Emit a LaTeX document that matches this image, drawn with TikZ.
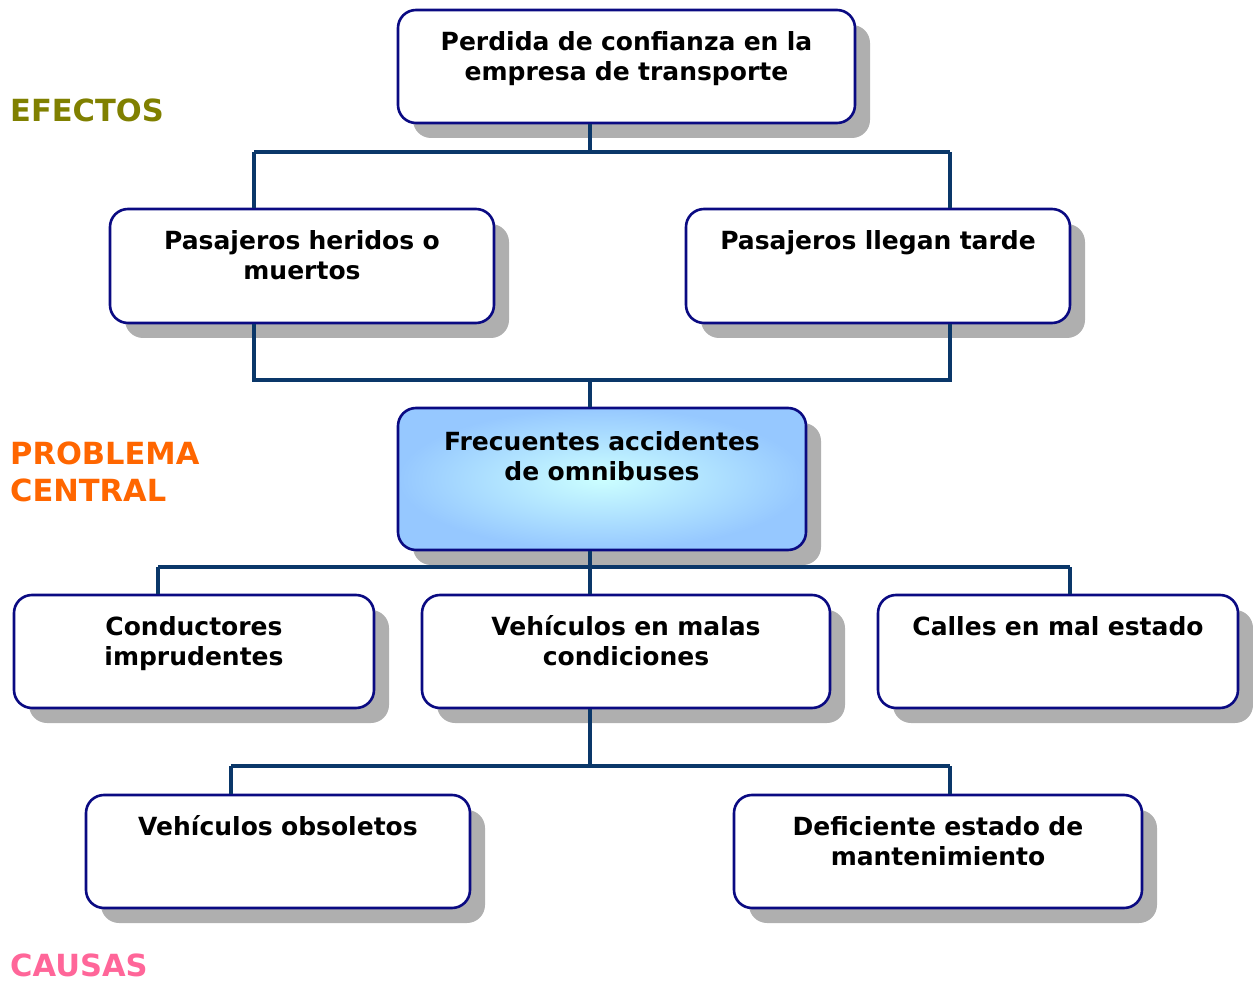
\documentclass[tikz,border=0pt]{standalone}
\usepackage{fontspec}
\setmainfont{DejaVu Sans}
\usetikzlibrary{shadows,backgrounds}
\definecolor{conncol}{RGB}{10,55,105}
\definecolor{boxborder}{RGB}{10,10,130}
\definecolor{shadowgray}{RGB}{175,175,175}
\definecolor{efcol}{RGB}{128,128,0}
\definecolor{pccol}{RGB}{255,102,0}
\definecolor{cacol}{RGB}{255,102,153}
\definecolor{innerblue}{RGB}{204,255,255}
\definecolor{outerblue}{RGB}{150,200,255}
\tikzset{
  boxnode/.style={draw=boxborder, line width=2.6pt, rounded corners=18pt, fill=white, inner sep=0pt,
    drop shadow={shadow xshift=15pt, shadow yshift=-15pt, fill=shadowgray, opacity=1}},
  boxtext/.style={anchor=base, inner sep=0pt, align=center, text width=500pt,
    font=\bfseries\fontsize{25}{30}\selectfont},
  conn/.style={draw=conncol, line width=4pt},
  sidelabel/.style={anchor=base west, inner sep=0pt, align=left, font=\bfseries\fontsize{30.5}{37}\selectfont}
}
\begin{document}
\begin{tikzpicture}[x=1pt,y=-1pt]
\useasboundingbox (0,0) rectangle (1253,981);
% boxes
\node[boxnode, minimum width=457pt, minimum height=113pt] (top) at (626.5,66.5) {};
\node[boxnode, minimum width=384pt, minimum height=114pt] (h1) at (302,266) {};
\node[boxnode, minimum width=384pt, minimum height=114pt] (h2) at (878,266) {};
\node[boxnode, minimum width=408pt, minimum height=142pt, shading=radial, inner color=innerblue, outer color=outerblue] (pc) at (602,479) {};
\node[boxnode, minimum width=360pt, minimum height=113pt] (c1) at (194,651.5) {};
\node[boxnode, minimum width=408pt, minimum height=113pt] (c2) at (626,651.5) {};
\node[boxnode, minimum width=360pt, minimum height=113pt] (c3) at (1058,651.5) {};
\node[boxnode, minimum width=384pt, minimum height=113pt] (d1) at (278,851.5) {};
\node[boxnode, minimum width=408pt, minimum height=113pt] (d2) at (938,851.5) {};
% texts
\node[boxtext] (ttop) at ([yshift=-42pt]top.north) {Perdida de confianza en la\\empresa de transporte};
\node[boxtext] (th1) at ([yshift=-42pt]h1.north) {Pasajeros heridos o\\muertos};
\node[boxtext] (th2) at ([yshift=-42pt]h2.north) {Pasajeros llegan tarde};
\node[boxtext] (tpc) at ([yshift=-44pt]pc.north) {Frecuentes accidentes\\de omnibuses};
\node[boxtext] (tc1) at ([yshift=-42pt]c1.north) {Conductores\\imprudentes};
\node[boxtext] (tc2) at ([yshift=-42pt]c2.north) {Vehículos en malas\\condiciones};
\node[boxtext] (tc3) at ([yshift=-42pt]c3.north) {Calles en mal estado};
\node[boxtext] (td1) at ([yshift=-42pt]d1.north) {Vehículos obsoletos};
\node[boxtext] (td2) at ([yshift=-42pt]d2.north) {Deficiente estado de\\mantenimiento};
% side labels
\node[sidelabel, text=efcol] (lef) at (10,122) {EFECTOS};
\node[sidelabel, text=pccol] (lpc) at (10,501) {PROBLEMA\\CENTRAL};
\node[sidelabel, text=cacol] (lca) at (10,976) {CAUSAS};
% junction coordinates
\coordinate (j1) at (590,152);
\coordinate (j1l) at (254,152);
\coordinate (j1r) at (950,152);
\coordinate (j2) at (590,380);
\coordinate (j2l) at (254,380);
\coordinate (j2r) at (950,380);
\coordinate (j3) at (590,567);
\coordinate (j3l) at (158,567);
\coordinate (j3r) at (1070,567);
\coordinate (j4) at (590,766);
\coordinate (j4l) at (231,766);
\coordinate (j4r) at (950,766);
% connectors
\draw[conn] (top.south -| j1) -- (j1);
\draw[conn] (j1l) -- (j1r);
\draw[conn] (j1l) -- (h1.north -| j1l);
\draw[conn] (j1r) -- (h2.north -| j1r);
\draw[conn] (h1.south -| j2l) -- (j2l) -- (j2r) -- (h2.south -| j2r);
\draw[conn] (j2) -- (pc.north -| j2);
\draw[conn] (pc.south -| j3) -- (j3);
\draw[conn] (j3l) -- (j3r);
\draw[conn] (j3l) -- (c1.north -| j3l);
\draw[conn] (j3) -- (c2.north -| j3);
\draw[conn] (j3r) -- (c3.north -| j3r);
\draw[conn] (c2.south -| j4) -- (j4);
\draw[conn] (j4l) -- (j4r);
\draw[conn] (j4l) -- (d1.north -| j4l);
\draw[conn] (j4r) -- (d2.north -| j4r);
\end{tikzpicture}
\end{document}
